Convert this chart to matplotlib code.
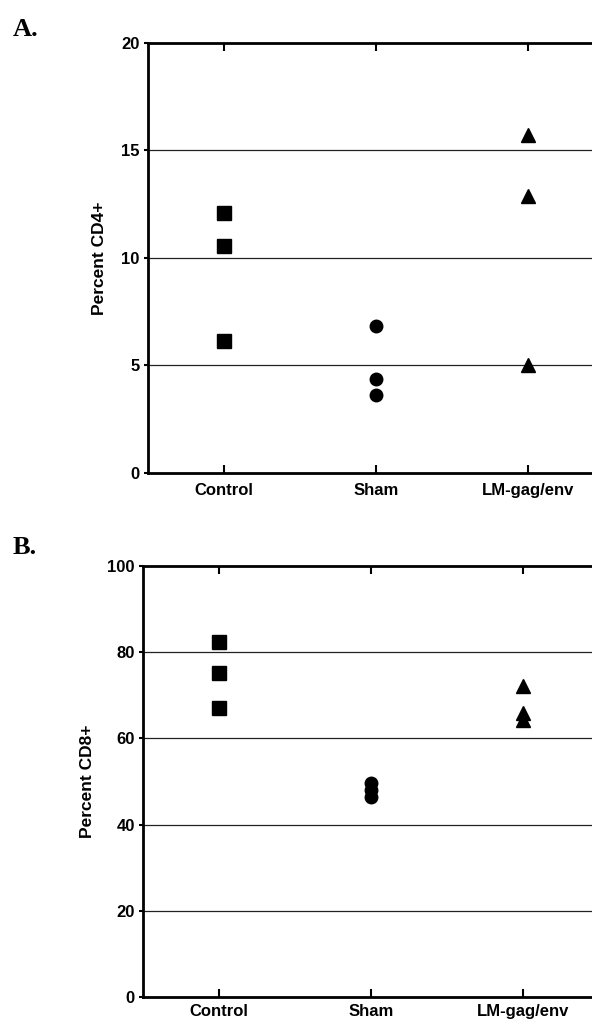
import numpy as np
import matplotlib.pyplot as plt

groups = ['Control', 'Sham', 'LM-gag/env']

# panel A, percent CD4+
cd4_control = [12.1, 10.55, 6.15]
cd4_sham = [6.85, 4.35, 3.65]
cd4_lm = [15.7, 12.9, 5.0]

# panel B, percent CD8+
cd8_control = [82.3, 75.2, 67.0]
cd8_sham = [49.6, 48.0, 46.5]
cd8_lm = [72.2, 66.0, 64.3]

plt.rcParams['font.family'] = ['Liberation Sans', 'DejaVu Sans']
plt.rcParams['font.weight'] = 'bold'

fig = plt.figure(figsize=(5.92, 10.27), dpi=100)

W, H = 592.0, 1027.0
ax = fig.add_axes([148/W, 1-473/H, 3*152/W, (473-43)/H])
bx = fig.add_axes([143/W, 1-997/H, 3*152/W, (997-566)/H])


def setup(a, ymax, step, ylabel, xpad, labx):
    a.set_xlim(0.5, 3.5)
    a.set_ylim(0, ymax)
    a.set_yticks(np.arange(0, ymax + 1, step))
    a.set_xticks([1, 2, 3])
    a.set_xticklabels(groups, fontsize=12, fontweight='bold')
    for t in a.get_yticklabels():
        t.set_fontsize(12)
        t.set_fontweight('bold')
    a.set_ylabel(ylabel, fontsize=12.5, fontweight='bold')
    a.yaxis.set_label_coords(labx, 0.5)
    for yv in np.arange(step, ymax, step):
        a.axhline(yv, color='#222222', lw=0.9, zorder=1)
    for s in ['left', 'bottom', 'top']:
        a.spines[s].set_linewidth(2)
    a.spines['right'].set_visible(False)
    a.tick_params(axis='x', direction='in', length=6, width=1.5, top=True, pad=xpad)
    a.tick_params(axis='y', direction='out', length=3, width=1.5, pad=3)


setup(ax, 20, 5, 'Percent CD4+', 7, -0.09)
setup(bx, 100, 20, 'Percent CD8+', 5, -0.105)

for a, c, s, l in [(ax, cd4_control, cd4_sham, cd4_lm), (bx, cd8_control, cd8_sham, cd8_lm)]:
    a.plot([1]*len(c), c, 's', color='black', ms=10, zorder=3, clip_on=False)
    a.plot([2]*len(s), s, 'o', color='black', ms=9, zorder=3, clip_on=False)
    a.plot([3]*len(l), l, '^', color='black', ms=9.5, zorder=3, clip_on=False)

fig.text(13/W, 1-29/H, 'A.', fontsize=19, fontweight='bold', family='Liberation Serif', va='center')
fig.text(13/W, 1-548/H, 'B.', fontsize=19, fontweight='bold', family='Liberation Serif', va='center')

fig.savefig('out.png', dpi=100)
